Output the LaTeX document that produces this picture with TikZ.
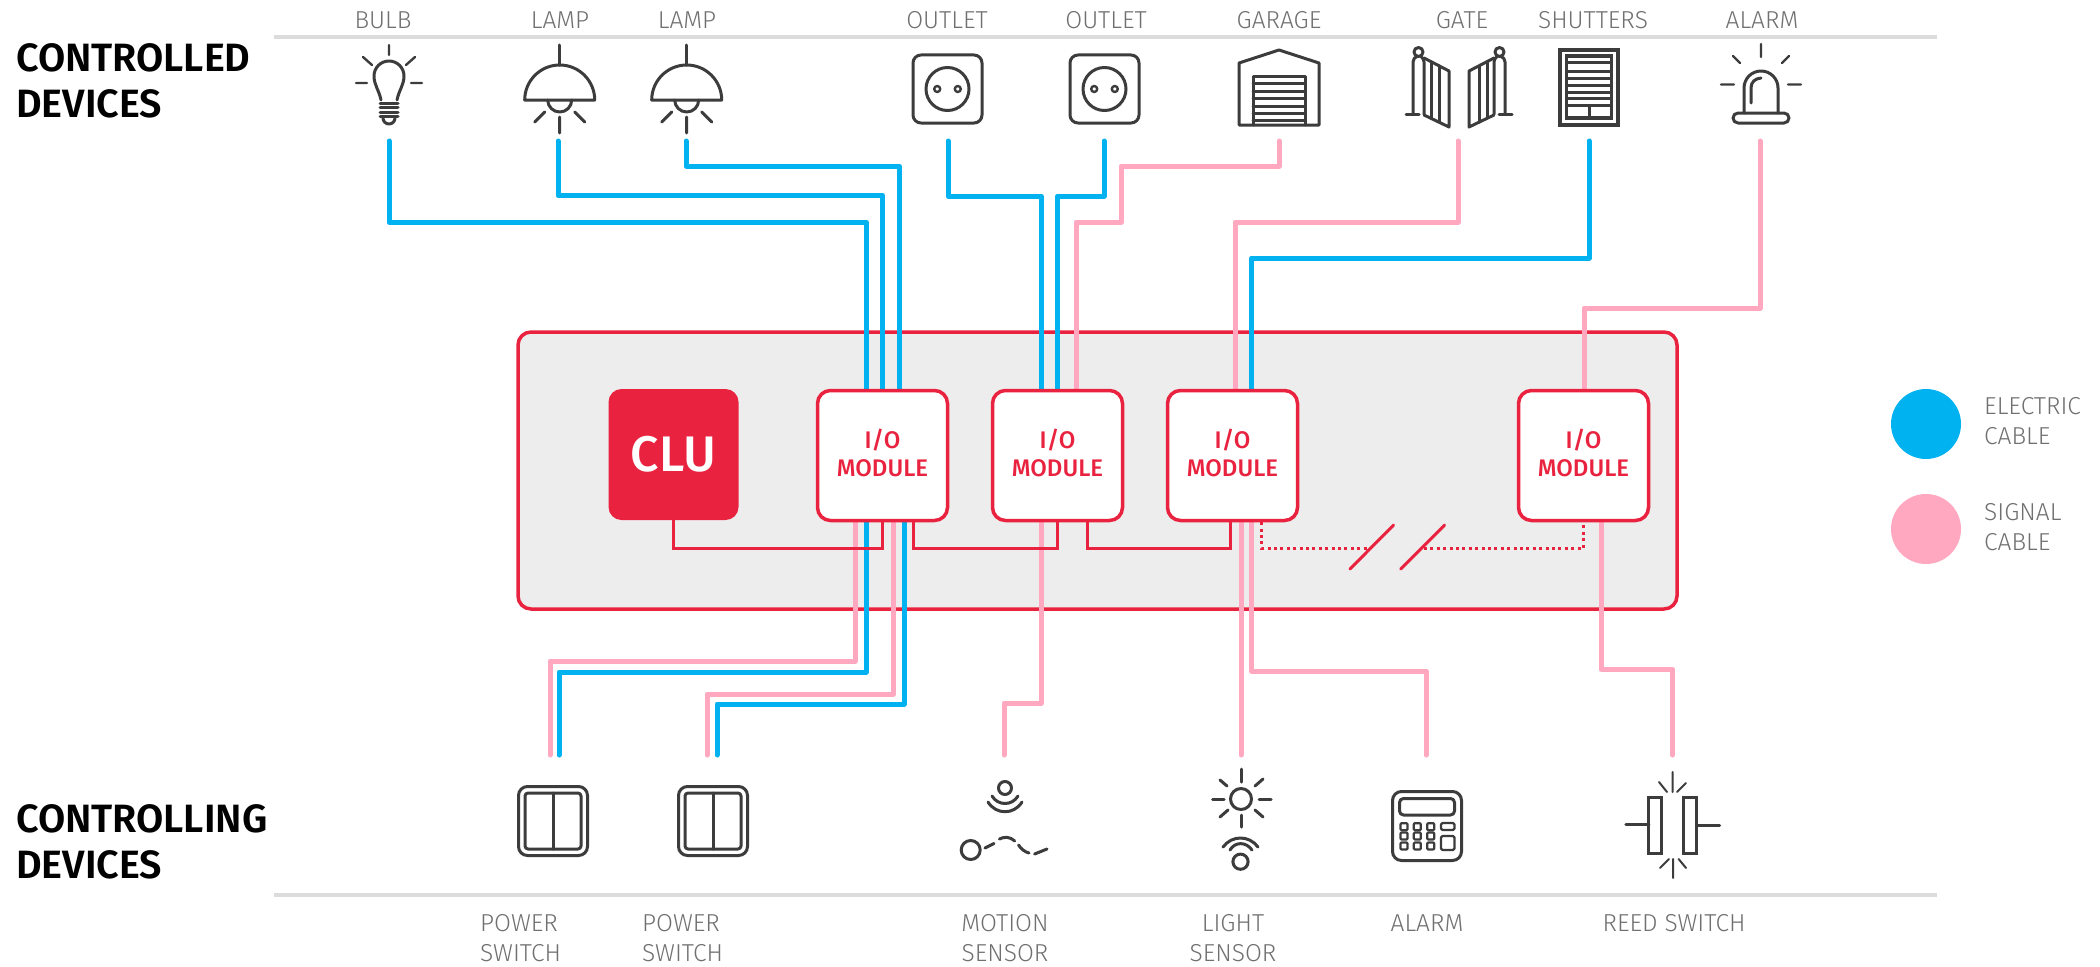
\documentclass[tikz,border=0pt]{standalone}
\usepackage{fontspec}
\setmainfont{Fira Sans}[UprightFont=* Light,BoldFont=* Medium]
\newfontfamily\headf{Fira Sans SemiBold}
\usetikzlibrary{calc}
\pgfdeclarelayer{top}\pgfsetlayers{main,top}
\definecolor{cblue}{HTML}{00B2F0}
\definecolor{cpink}{HTML}{FFA8C0}
\definecolor{cred}{HTML}{E9233F}
\definecolor{cgrey}{HTML}{EDEDED}
\definecolor{crule}{HTML}{DCDCDC}
\definecolor{cicon}{HTML}{3C3C3C}
\definecolor{ctext}{HTML}{707070}
\tikzset{
  elec/.style={draw=cblue,line width=5pt,line cap=round,line join=round},
  sig/.style={draw=cpink,line width=5pt,line cap=round,line join=round},
  redw/.style={draw=cred,line width=3pt,line join=miter},
  redd/.style={draw=cred,line width=3pt,dash pattern=on 3pt off 3.4pt},
  slash/.style={draw=cred,line width=3pt,line cap=round},
  rulel/.style={draw=crule,line width=4pt},
  ico/.style={draw=cicon,line width=3pt,line cap=round,line join=round},
  lab/.style={inner sep=0pt,text=ctext,font=\fontsize{24.5}{30}\selectfont,align=center},
  labl/.style={lab,align=left,anchor=west},
  head/.style={inner sep=0pt,anchor=west,align=left,text=black,font=\fontsize{39.5}{46}\selectfont\headf},
  iomod/.style={draw=cred,fill=white,line width=3.5pt,rounded corners=13pt,minimum width=130pt,minimum height=130pt,inner sep=0pt},
  iotext/.style={inner sep=0pt,text=cred,align=center,font=\fontsize{24}{28}\selectfont\bfseries},
  lampicon/.pic={
    \draw[ico] (0,-55)--(0,-35);
    \draw[ico] (-35,0) arc[start angle=180,end angle=360,radius=35] -- cycle;
    \draw[ico] (-12,0) arc[start angle=180,end angle=0,radius=12];
    \draw[ico] (0,17)--(0,33) (-15,12)--(-25,22) (15,12)--(25,22);
  },
  outleticon/.pic={
    \draw[ico,rounded corners=8pt] (-34.5,-34) rectangle (34.5,34);
    \draw[ico] (0,0) circle[radius=21.5];
    \draw[ico,line width=2.4pt] (-10.3,0) circle[radius=3] (10.3,0) circle[radius=3];
  },
  switchicon/.pic={
    \draw[ico,rounded corners=9pt] (-34.5,-34.5) rectangle (34.5,34.5);
    \draw[ico,rounded corners=3pt] (-28,-28) rectangle (28,28);
    \draw[ico] (0,-28)--(0,28);
  }
}
\begin{document}
\begin{tikzpicture}[x=1pt,y=-1pt]
\useasboundingbox (0,0) rectangle (2100,966);
\fill[white] (0,0) rectangle (2100,966);

% rules
\coordinate (rt1) at (274,37); \coordinate (rt2) at (1937,37);
\coordinate (rb1) at (274,895); \coordinate (rb2) at (1937,895);
\draw[rulel] (rt1)--(rt2);
\draw[rulel] (rb1)--(rb2);

% headings
\node[head] (h1) at (16,81) {CONTROLLED\\DEVICES};
\node[head] (h2) at (16,842) {CONTROLLING\\DEVICES};

% top labels
\node[lab] (l1) at (383,20) {BULB};
\node[lab] (l2) at (560,20) {LAMP};
\node[lab] (l3) at (687,20) {LAMP};
\node[lab] (l4) at (947,20) {OUTLET};
\node[lab] (l5) at (1106,20) {OUTLET};
\node[lab] (l6) at (1279,20) {GARAGE};
\node[lab] (l7) at (1462,20) {GATE};
\node[lab] (l8) at (1593,20) {SHUTTERS};
\node[lab] (l9) at (1762,20) {ALARM};

% bottom labels
\node[labl] (b1) at (480,938) {POWER\\SWITCH};
\node[labl] (b2) at (642,938) {POWER\\SWITCH};
\node[lab] (b3) at (1005,938) {MOTION\\SENSOR};
\node[lab] (b4) at (1233,938) {LIGHT\\SENSOR};
\node[lab] (b5) at (1427,923) {ALARM};
\node[lab] (b6) at (1674,923) {REED SWITCH};

% legend
\node[circle,fill=cblue,minimum size=70pt,inner sep=0pt] (lg1) at (1926,424) {};
\node[circle,fill=cpink,minimum size=70pt,inner sep=0pt] (lg2) at (1926,529) {};
\node[labl] (lt1) at (1984,421) {ELECTRIC\\CABLE};
\node[labl] (lt2) at (1984,527) {SIGNAL\\CABLE};

% container
\node[draw=cred,fill=cgrey,line width=3.5pt,rounded corners=13pt,minimum width=1159pt,minimum height=277pt,inner sep=0pt] (box) at (1097.5,470.5) {};

\begin{pgfonlayer}{top}
\node[fill=cred,rounded corners=13pt,minimum width=130pt,minimum height=131pt,inner sep=0pt,text=white,font=\fontsize{50}{50}\selectfont\bfseries] (clu) at (673.5,454.5) {CLU};
\node[iomod] (m1) at (882.5,455.5) {};
\node[iomod] (m2) at (1057.5,455.5) {};
\node[iomod] (m3) at (1232.5,455.5) {};
\node[iomod] (m4) at (1583.5,455.5) {};
\node[iotext] (t1) at (882.5,452.5) {I/O\\MODULE};
\node[iotext] (t2) at (1057.5,452.5) {I/O\\MODULE};
\node[iotext] (t3) at (1232.5,452.5) {I/O\\MODULE};
\node[iotext] (t4) at (1583.5,452.5) {I/O\\MODULE};

% red links
\draw[redw] (clu.south) -- (673.5,548) -- (882.5,548) -- (882.5,0 |- m1.south);
\draw[redw] (913.5,0 |- m1.south) -- (913.5,548) -- (1057.5,548) -- (1057.5,0 |- m2.south);
\draw[redw] (1087,0 |- m2.south) -- (1087,548) -- (1230,548) -- (1230,0 |- m3.south);
\coordinate (s1a) at (1350,569); \coordinate (s1b) at (1393.6,525);
\coordinate (s2a) at (1400.7,569); \coordinate (s2b) at (1444.6,525);
\draw[redd] (1261.4,0 |- m3.south) -- (1261.4,548) -- (1369,548);
\draw[redd] (1424,548) -- (1583.5,548) -- (1583.5,0 |- m4.south);
\draw[slash] (s1a)--(s1b);
\draw[slash] (s2a)--(s2b);
\end{pgfonlayer}

% wires, top
\coordinate (tb) at (389,141); \coordinate (tl1) at (558,141); \coordinate (tl2) at (686,141);
\coordinate (to1) at (948,141); \coordinate (to2) at (1104,141); \coordinate (tga) at (1279,141);
\coordinate (tgt) at (1458,141); \coordinate (tsh) at (1589,141); \coordinate (tal) at (1760,141);
\draw[elec] (tb) -- (389,222) -- (866,222) -- (866,0 |- m1.north);
\draw[elec] (tl1) -- (558,195.5) -- (882.5,195.5) -- (882.5,0 |- m1.north);
\draw[elec] (tl2) -- (686,166) -- (899,166) -- (899,0 |- m1.north);
\draw[elec] (to1) -- (948,196) -- (1041,196) -- (1041,0 |- m2.north);
\draw[elec] (to2) -- (1104,196) -- (1057.5,196) -- (1057.5,0 |- m2.north);
\draw[sig] (tga) -- (1279,166) -- (1121,166) -- (1121,222) -- (1076,222) -- (1076,0 |- m2.north);
\draw[sig] (tgt) -- (1458,222) -- (1235,222) -- (1235,0 |- m3.north);
\draw[elec] (tsh) -- (1589,258) -- (1251.5,258) -- (1251.5,0 |- m3.north);
\draw[sig] (tal) -- (1760,308) -- (1584,308) -- (1584,0 |- m4.north);

% wires, bottom
\coordinate (e1) at (550,755); \coordinate (e2) at (559,755); \coordinate (e3) at (707,755); \coordinate (e4) at (717,755);
\coordinate (e5) at (1004,755); \coordinate (e6) at (1241,755); \coordinate (e7) at (1426,755); \coordinate (e8) at (1672.5,755);
\draw[sig] (855,0 |- m1.south) -- (855,661) -- (550,661) -- (e1);
\draw[elec] (866,0 |- m1.south) -- (866,672) -- (559,672) -- (e2);
\draw[sig] (893.5,0 |- m1.south) -- (893.5,694) -- (707,694) -- (e3);
\draw[elec] (904,0 |- m1.south) -- (904,704) -- (717,704) -- (e4);
\draw[sig] (1041,0 |- m2.south) -- (1041,703) -- (1004,703) -- (e5);
\draw[sig] (1241,0 |- m3.south) -- (e6);
\draw[sig] (1251.5,0 |- m3.south) -- (1251.5,671) -- (1426,671) -- (e7);
\draw[sig] (1601,0 |- m4.south) -- (1601,669) -- (1672.5,669) -- (e8);

% bulb
\begin{scope}[shift={(389,83)}]
\draw[ico] (-8,17) .. controls (-10,7) and (-15,2) .. (-15,-7) arc[start angle=180,end angle=360,radius=15] .. controls (15,2) and (10,7) .. (8,17);
\draw[ico] (-9,20)--(9,20) (-9,24.5)--(9,24.5) (-9,29)--(9,29) (-9,33)--(9,33);
\draw[ico] (-6,35) arc[start angle=180,end angle=0,radius=6];
\draw[ico,line width=2.4pt] (0,-38)--(0,-28) (-26,-26)--(-17,-18) (26,-26)--(17,-18) (-33,0)--(-22,0) (33,0)--(22,0);
\end{scope}

\pic at (559.7,100) {lampicon};
\pic at (686.7,100) {lampicon};
\pic at (947.5,89) {outleticon};
\pic at (1104.5,89) {outleticon};

% garage
\begin{scope}[shift={(1279,88)}]
\draw[ico] (-40,37) -- (-40,-25) -- (0,-38) -- (40,-25) -- (40,37) -- cycle;
\draw[ico] (-26,37) -- (-26,-12) -- (26,-12) -- (26,37);
\draw[ico] (-26,-5)--(26,-5) (-26,3)--(26,3) (-26,10)--(26,10) (-26,18)--(26,18) (-26,25)--(26,25) (-26,32)--(26,32);
\end{scope}

% gate
\foreach \sx in {1,-1}{
\begin{scope}[shift={(1459,0)},xscale=\sx]
\draw[ico] (-40.5,52) circle[radius=4.5];
\draw[ico] (-46,114) -- (-46,62) .. controls (-46,59) and (-44,57) .. (-42,56.5);
\draw[ico] (-35,114) -- (-35,62) .. controls (-35,60) and (-36,58) .. (-38,56.5);
\draw[ico] (-53,114)--(-40,114);
\draw[ico] (-35,58) -- (-10,71) -- (-10,127) -- (-35,115);
\draw[ico] (-28,62)--(-28,118) (-20,66)--(-20,122);
\end{scope}}

% shutters
\begin{scope}[shift={(1589,0)}]
\draw[ico,line width=3.5pt,line cap=butt,line join=miter] (-29,50) rectangle (29,125);
\draw[ico,line width=3.5pt,line cap=butt,line join=miter] (-22.5,56) rectangle (22.5,118);
\draw[ico,line cap=butt] (-22.5,63)--(22.5,63) (-22.5,71)--(22.5,71) (-22.5,78)--(22.5,78) (-22.5,85)--(22.5,85) (-22.5,92)--(22.5,92) (-22.5,98.5)--(22.5,98.5) (-22.5,105)--(22.5,105);
\draw[ico,line cap=butt] (0,105)--(0,118);
\end{scope}

% alarm top
\begin{scope}[shift={(1761,0)}]
\draw[ico,line width=2.4pt] (0,44)--(0,57) (-28,56)--(-21,63) (28,56)--(21,63) (-40,84.5)--(-27,84.5) (40,84.5)--(27,84.5);
\draw[ico] (-17,113) -- (-17,88) arc[start angle=180,end angle=360,radius=17] -- (17,113);
\draw[ico] (-10,103) -- (-10,88) .. controls (-10,82) and (-6,78.5) .. (0,78);
\draw[ico] (-23,113) -- (23,113) arc[start angle=-90,end angle=90,radius=5] -- (-23,123) arc[start angle=90,end angle=270,radius=5] -- cycle;
\end{scope}

\pic at (553,821) {switchicon};
\pic at (713,821) {switchicon};

% motion sensor
\draw[ico] (1005,788) circle[radius=6.5];
\draw[ico] (992,796) .. controls (998,806) and (1012,806) .. (1018,796);
\draw[ico] (988,802) .. controls (996,815) and (1014,815) .. (1022,802);
\draw[ico] (970.7,850) circle[radius=9.5];
\draw[ico] (985,848) -- (994,843.5);
\draw[ico] (999.4,839) .. controls (1004,836.5) and (1010,836.5) .. (1014.7,841);
\draw[ico] (1018.5,845) .. controls (1021,849) and (1025,852) .. (1029,853);
\draw[ico] (1034.6,854) -- (1047,849);

% light sensor
\draw[ico] (1241,799) circle[radius=10.5];
\draw[ico] (1241,769)--(1241,782) (1241,815)--(1241,827) (1212.5,799)--(1224,799) (1259,799)--(1271,799);
\draw[ico] (1220,780)--(1227,786) (1263,779)--(1255,786) (1220,817)--(1228,810) (1263,817)--(1255,810);
\draw[ico] (1240.5,861.7) circle[radius=7.6];
\draw[ico] (1223,847) .. controls (1232,835) and (1249,835) .. (1258,847);
\draw[ico] (1230,850) .. controls (1235,841.5) and (1246,841.5) .. (1252,850);

% alarm panel
\begin{scope}[shift={(1427,826)}]
\draw[ico,rounded corners=9pt] (-34.5,-34.5) rectangle (34.5,34.5);
\draw[ico,rounded corners=4pt] (-27.5,-27.5) rectangle (27.5,-11);
\foreach \kx in {-23,-9.7,3.7}{\foreach \ky in {0.7,10,20}{
  \draw[ico,line width=2.2pt,rounded corners=1pt] ($(\kx,\ky)+(-3.5,-3.5)$) rectangle ($(\kx,\ky)+(3.5,3.5)$);}}
\draw[ico,line width=2.2pt,rounded corners=1.5pt] (14,-3) rectangle (27.5,4);
\draw[ico,line width=2.2pt,rounded corners=1.5pt] (14,10) rectangle (27.5,24);
\end{scope}

% reed switch
\draw[ico,line cap=butt,line join=miter] (1648.8,797.3) rectangle (1661.4,853.3);
\draw[ico,line cap=butt,line join=miter] (1683.6,797.3) rectangle (1696.6,853.3);
\draw[ico] (1625.8,824)--(1648.8,824) (1696.6,825.7)--(1719.6,825.7);
\draw[ico,line width=2pt] (1672.5,772)--(1672.5,792) (1659,782)--(1667,792) (1686,783)--(1677,792);
\draw[ico,line width=2pt] (1673,859)--(1673,878) (1660,868)--(1669,859) (1686,868)--(1678.6,859);
\end{tikzpicture}
\end{document}
